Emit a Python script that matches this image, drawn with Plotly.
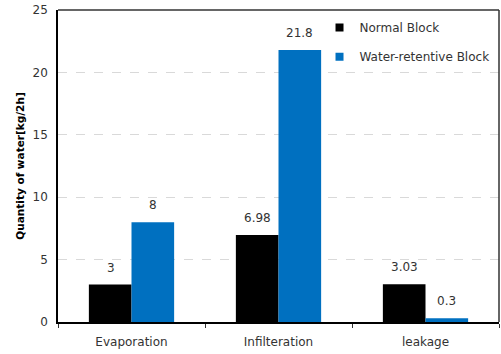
import plotly.graph_objects as go

categories = ["Evaporation", "Infilteration", "leakage"]
normal_block = [3, 6.98, 3.03]
water_retentive = [8, 21.8, 0.3]
series_names = ["Normal Block", "Water-retentive Block"]
series_colors = ["#000000", "#0070C0"]
y_ticks = [0, 5, 10, 15, 20, 25]

FONT = "DejaVu Sans"
TXT = "#333333"

fig = go.Figure()
for vals, name, col in zip((normal_block, water_retentive), series_names, series_colors):
    fig.add_trace(go.Bar(
        x=categories, y=vals, name=name,
        marker=dict(color=col, line=dict(width=0)),
        showlegend=False,
    ))
# legend entries with small square symbols
for i, (name, col) in enumerate(zip(series_names, series_colors)):
    fig.add_trace(go.Scatter(
        x=[None], y=[None], mode="markers", name=name,
        marker=dict(symbol="square", size=8, color=col),
        legend="legend" if i == 0 else "legend2",
    ))

# value labels
for vals, shift in ((normal_block, -21), (water_retentive, 21)):
    for c, v in zip(categories, vals):
        fig.add_annotation(x=c, y=v, text=str(v), showarrow=False,
                           xshift=shift, yshift=8, yanchor="bottom",
                           font=dict(family=FONT, size=12, color=TXT))

fig.update_layout(
    width=501, height=354,
    margin=dict(l=58, r=2, t=10, b=32, autoexpand=False),
    paper_bgcolor="white", plot_bgcolor="white",
    barmode="group", bargap=0.42, bargroupgap=0,
    font=dict(family=FONT, size=12, color=TXT),
    legend=dict(x=0.593, y=0.99, xanchor="left", yanchor="top",
                bgcolor="rgba(0,0,0,0)", font=dict(family=FONT, size=12, color=TXT),
                itemwidth=30),
    legend2=dict(x=0.593, y=0.897, xanchor="left", yanchor="top",
                 bgcolor="rgba(0,0,0,0)", font=dict(family=FONT, size=12, color=TXT),
                 itemwidth=30),
    showlegend=True,
)
fig.update_xaxes(
    type="category", tickson="boundaries", ticks="outside", ticklen=4,
    tickcolor="#333333", showline=True, linecolor="#000000", linewidth=1.5,
    mirror=False, showgrid=False, tickfont=dict(family=FONT, size=12, color=TXT),
    ticklabelstandoff=8,
)
fig.update_yaxes(
    range=[0, 25], tickvals=y_ticks, ticks="", showline=True,
    linecolor="#000000", linewidth=1.5, showgrid=True,
    gridcolor="#d9d9d9", griddash="dash", gridwidth=1, zeroline=False,
    tickfont=dict(family=FONT, size=12, color=TXT), ticklabelstandoff=6,
    title=dict(text="<b>Quantity of water[kg/2h]</b>", font=dict(family=FONT, size=10.5, color="#000000"), standoff=6),
)
# top and right frame
fig.add_shape(type="line", xref="paper", yref="paper", x0=0, x1=1, y0=1, y1=1,
              line=dict(color="#333333", width=1.5))
fig.add_shape(type="line", xref="paper", yref="paper", x0=1, x1=1, y0=0, y1=1,
              line=dict(color="#333333", width=1.5))

fig.write_html("out.html")
